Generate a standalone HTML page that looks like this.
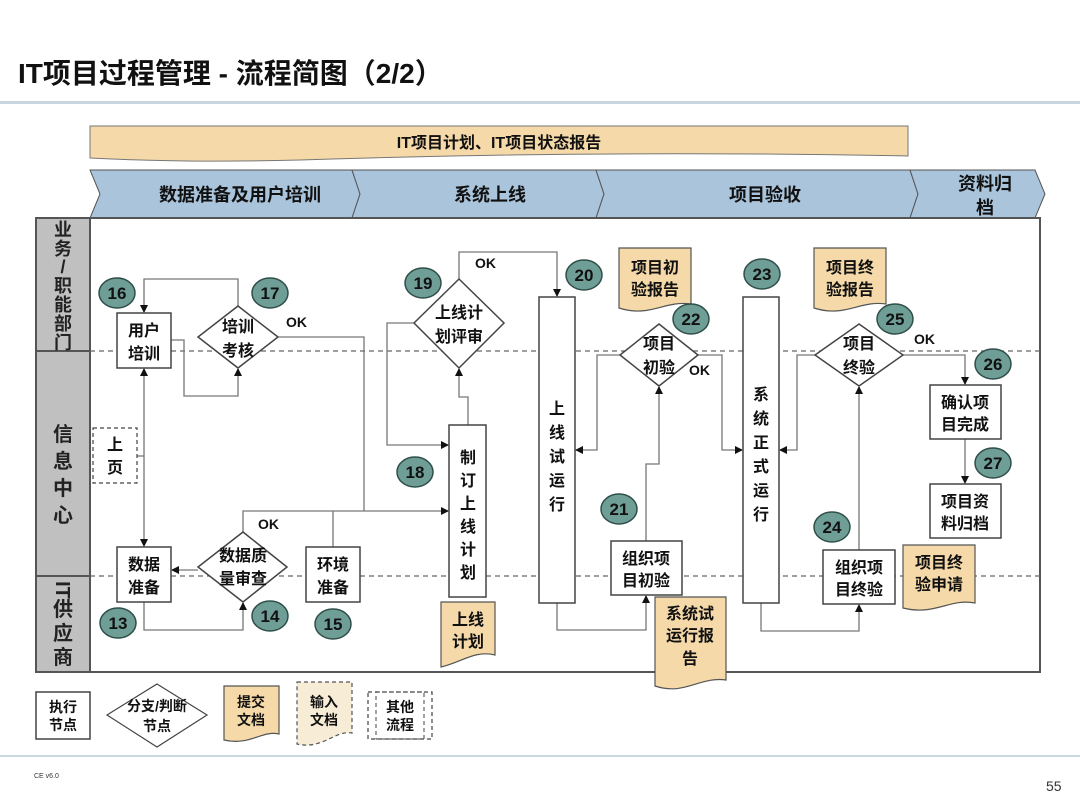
<!DOCTYPE html>
<html><head><meta charset="utf-8"><style>
html,body{margin:0;padding:0;background:#fff;}
svg{display:block;font-family:"Liberation Sans","Noto Sans CJK SC",sans-serif;font-weight:bold;}
</style></head><body>
<svg width="1080" height="810" viewBox="0 0 1080 810" xmlns="http://www.w3.org/2000/svg">
<defs>
<marker id="a" markerWidth="8" markerHeight="8" refX="7" refY="4" orient="auto" markerUnits="userSpaceOnUse"><path d="M0,0 L8,4 L0,8 Z" fill="#111"/></marker>
</defs>
<text x="18" y="83" font-size="28" fill="#111">IT项目过程管理 - 流程简图（2/2）</text>
<rect x="0" y="101" width="1080" height="3" fill="#c9d6de"/>
<path d="M90,126 H908 V156 Q600,150 300,160 Q190,163 90,158 Z" fill="#f5d9a8" stroke="#777" stroke-width="1"/>
<text x="499" y="148" font-size="16" text-anchor="middle" fill="#111">IT项目计划、IT项目状态报告</text>
<g fill="#a9c4db" stroke="#555" stroke-width="1">
<polygon points="90,170 352,170 360,194 352,218 90,218 100,194"/>
<polygon points="352,170 596,170 604,194 596,218 352,218 360,194"/>
<polygon points="596,170 910,170 918,194 910,218 596,218 604,194"/>
<polygon points="910,170 1035,170 1045,194 1035,218 910,218 918,194"/>
</g>
<g font-size="18" fill="#111" text-anchor="middle">
<text x="240" y="201">数据准备及用户培训</text>
<text x="490" y="201">系统上线</text>
<text x="765" y="201">项目验收</text>
<text x="985" y="190">资料归</text>
<text x="985" y="214">档</text>
</g>
<rect x="36" y="218" width="54" height="454" fill="#c0c0c0"/>
<rect x="36" y="218" width="1004" height="454" fill="none" stroke="#555" stroke-width="2"/>
<line x1="90" y1="218" x2="90" y2="672" stroke="#555" stroke-width="2"/>
<line x1="36" y1="351" x2="90" y2="351" stroke="#555" stroke-width="2"/>
<line x1="36" y1="576" x2="90" y2="576" stroke="#555" stroke-width="2"/>
<g stroke="#666" stroke-width="1.2" stroke-dasharray="5,4">
<line x1="90" y1="351" x2="1040" y2="351"/>
<line x1="90" y1="576" x2="1040" y2="576"/>
</g>
<g font-size="18" fill="#222" text-anchor="middle">
<text x="63" y="236">业</text><text x="63" y="255">务</text><text x="63" y="273">/</text><text x="63" y="292">职</text><text x="63" y="311">能</text><text x="63" y="330">部</text><text x="63" y="349">门</text>
</g>
<g font-size="20" fill="#222" text-anchor="middle">
<text x="63" y="441">信</text><text x="63" y="468">息</text><text x="63" y="495">中</text><text x="63" y="522">心</text>
<text x="0" y="0" transform="translate(56,590) rotate(90)" text-anchor="middle">IT</text>
<text x="63" y="616">供</text><text x="63" y="640">应</text><text x="63" y="664">商</text>
</g>
<g fill="none" stroke="#777" stroke-width="1.3">
<polyline points="238,306 238,279 144,279 144,312" marker-end="url(#a)"/>
<polyline points="171,340 184,340 184,396 238,396 238,369" marker-end="url(#a)"/>
<polyline points="278,337 364,337 364,511"/>
<line x1="137" y1="456" x2="144" y2="456"/>
<line x1="144" y1="456" x2="144" y2="369" marker-end="url(#a)"/>
<line x1="144" y1="456" x2="144" y2="546" marker-end="url(#a)"/>
<line x1="198" y1="570" x2="172" y2="570" marker-end="url(#a)"/>
<polyline points="144,602 144,630 243,630 243,603" marker-end="url(#a)"/>
<polyline points="243,532 243,511 448,511" marker-end="url(#a)"/>
<line x1="333" y1="547" x2="333" y2="511"/>
<polyline points="414,323 387,323 387,445 448,445" marker-end="url(#a)"/>
<polyline points="468,425 468,397 459,397 459,369" marker-end="url(#a)"/>
<polyline points="459,279 459,252 557,252 557,296" marker-end="url(#a)"/>
<polyline points="620,355 597,355 597,450 576,450" marker-end="url(#a)"/>
<polyline points="698,355 722,355 722,450 742,450" marker-end="url(#a)"/>
<polyline points="646,541 646,464 659,464 659,387" marker-end="url(#a)"/>
<polyline points="557,603 557,630 646,630 646,596" marker-end="url(#a)"/>
<polyline points="815,355 797,355 797,450 780,450" marker-end="url(#a)"/>
<polyline points="903,355 965,355 965,384" marker-end="url(#a)"/>
<line x1="965" y1="439" x2="965" y2="483" marker-end="url(#a)"/>
<line x1="859" y1="550" x2="859" y2="387" marker-end="url(#a)"/>
<polyline points="761,603 761,631 859,631 859,605" marker-end="url(#a)"/>
</g>
<g fill="#fff" stroke="#444" stroke-width="1.5">
<rect x="117" y="313" width="54" height="55"/>
<rect x="117" y="547" width="54" height="55"/>
<rect x="306" y="547" width="54" height="55"/>
<rect x="449" y="425" width="37" height="172"/>
<rect x="539" y="297" width="36" height="306"/>
<rect x="611" y="541" width="71" height="54"/>
<rect x="743" y="297" width="36" height="306"/>
<rect x="930" y="385" width="71" height="54"/>
<rect x="930" y="484" width="71" height="54"/>
<rect x="823" y="550" width="72" height="54"/>
<polygon points="238,306 278,337 238,368 198,337"/>
<polygon points="243,532 287,567 243,602 198,567"/>
<polygon points="459,279 504,323 459,368 414,323"/>
<polygon points="659,324 698,355 659,386 620,355"/>
<polygon points="859,324 903,355 859,386 815,355"/>
</g>
<rect x="93" y="428" width="44" height="55" fill="#fff" stroke="#444" stroke-width="1.2" stroke-dasharray="4,3"/>
<g fill="#f5d9a8" stroke="#555" stroke-width="1.2">
<path d="M441,602 H495 V655 C475,650 462,662 441,667 Z"/>
<path d="M619,248 H691 V304 C665,300 650,318 619,308 Z"/>
<path d="M655,597 H726 V680 C700,676 685,696 655,686 Z"/>
<path d="M814,248 H886 V304 C860,300 845,318 814,308 Z"/>
<path d="M903,545 H975 V603 C950,598 935,616 903,608 Z"/>
</g>
<g font-size="16" fill="#111" text-anchor="middle">
<text x="144" y="336">用户</text><text x="144" y="359">培训</text>
<text x="238" y="332">培训</text><text x="238" y="356">考核</text>
<text x="144" y="570">数据</text><text x="144" y="593">准备</text>
<text x="243" y="561">数据质</text><text x="243" y="584">量审查</text>
<text x="333" y="570">环境</text><text x="333" y="593">准备</text>
<text x="459" y="318">上线计</text><text x="459" y="342">划评审</text>
<text x="115" y="450">上</text><text x="115" y="473">页</text>
<text x="468" y="463">制</text><text x="468" y="486">订</text><text x="468" y="509">上</text><text x="468" y="532">线</text><text x="468" y="555">计</text><text x="468" y="578">划</text>
<text x="468" y="625">上线</text><text x="468" y="647">计划</text>
<text x="557" y="414">上</text><text x="557" y="438">线</text><text x="557" y="462">试</text><text x="557" y="486">运</text><text x="557" y="510">行</text>
<text x="761" y="400">系</text><text x="761" y="424">统</text><text x="761" y="448">正</text><text x="761" y="472">式</text><text x="761" y="496">运</text><text x="761" y="520">行</text>
<text x="655" y="273">项目初</text><text x="655" y="295">验报告</text>
<text x="659" y="349">项目</text><text x="659" y="373">初验</text>
<text x="646" y="564">组织项</text><text x="646" y="586">目初验</text>
<text x="690" y="619">系统试</text><text x="690" y="641">运行报</text><text x="690" y="664">告</text>
<text x="850" y="273">项目终</text><text x="850" y="295">验报告</text>
<text x="859" y="349">项目</text><text x="859" y="373">终验</text>
<text x="965" y="408">确认项</text><text x="965" y="430">目完成</text>
<text x="965" y="507">项目资</text><text x="965" y="529">料归档</text>
<text x="859" y="573">组织项</text><text x="859" y="595">目终验</text>
<text x="939" y="568">项目终</text><text x="939" y="590">验申请</text>
</g>
<g font-size="14" fill="#111">
<text x="286" y="327">OK</text><text x="258" y="529">OK</text><text x="475" y="268">OK</text>
<text x="689" y="375">OK</text><text x="914" y="344">OK</text>
</g>
<g fill="#6f9e96" stroke="#2f4f4a" stroke-width="1.5">
<ellipse cx="117" cy="293" rx="18" ry="15"/><ellipse cx="270" cy="293" rx="18" ry="15"/>
<ellipse cx="118" cy="623" rx="18" ry="15"/><ellipse cx="270" cy="616" rx="18" ry="15"/>
<ellipse cx="333" cy="624" rx="18" ry="15"/><ellipse cx="415" cy="472" rx="18" ry="15"/>
<ellipse cx="423" cy="283" rx="18" ry="15"/><ellipse cx="584" cy="275" rx="18" ry="15"/>
<ellipse cx="691" cy="319" rx="18" ry="15"/><ellipse cx="619" cy="509" rx="18" ry="15"/>
<ellipse cx="762" cy="274" rx="18" ry="15"/><ellipse cx="895" cy="319" rx="18" ry="15"/>
<ellipse cx="993" cy="364" rx="18" ry="15"/><ellipse cx="993" cy="463" rx="18" ry="15"/>
<ellipse cx="832" cy="527" rx="18" ry="15"/>
</g>
<g font-size="17" fill="#111" text-anchor="middle">
<text x="117" y="299">16</text><text x="270" y="299">17</text>
<text x="118" y="629">13</text><text x="270" y="622">14</text>
<text x="333" y="630">15</text><text x="415" y="478">18</text>
<text x="423" y="289">19</text><text x="584" y="281">20</text>
<text x="691" y="325">22</text><text x="619" y="515">21</text>
<text x="762" y="280">23</text><text x="895" y="325">25</text>
<text x="993" y="370">26</text><text x="993" y="469">27</text>
<text x="832" y="533">24</text>
</g>
<rect x="36" y="692" width="54" height="47" fill="#fff" stroke="#444" stroke-width="1.5"/>
<polygon points="157,684 207,715 157,747 107,715" fill="#fff" stroke="#444" stroke-width="1.2"/>
<path d="M224,686 H279 V734 C262,730 250,746 224,740 Z" fill="#f5d9a8" stroke="#555" stroke-width="1.2"/>
<path d="M297,682 H352 V733 C335,730 322,750 297,744 Z" fill="#f7ecd6" stroke="#555" stroke-width="1.2" stroke-dasharray="4,3"/>
<rect x="368" y="692" width="64" height="47" fill="#fff" stroke="#444" stroke-width="1.2" stroke-dasharray="4,3"/>
<rect x="376" y="692" width="48" height="47" fill="none" stroke="#444" stroke-width="1" stroke-dasharray="4,3"/>
<g font-size="14" fill="#111" text-anchor="middle">
<text x="63" y="712">执行</text><text x="63" y="730">节点</text>
<text x="157" y="711">分支/判断</text><text x="157" y="731">节点</text>
<text x="251" y="707">提交</text><text x="251" y="725">文档</text>
<text x="324" y="707">输入</text><text x="324" y="725">文档</text>
<text x="400" y="712">其他</text><text x="400" y="730">流程</text>
</g>
<rect x="0" y="755" width="1080" height="2" fill="#c9d9e0"/>
<text x="34" y="778" font-size="7" font-weight="normal" fill="#333">CE v6.0</text>
<text x="1046" y="791" font-size="14" font-weight="normal" fill="#333">55</text>
</svg>
</body></html>
